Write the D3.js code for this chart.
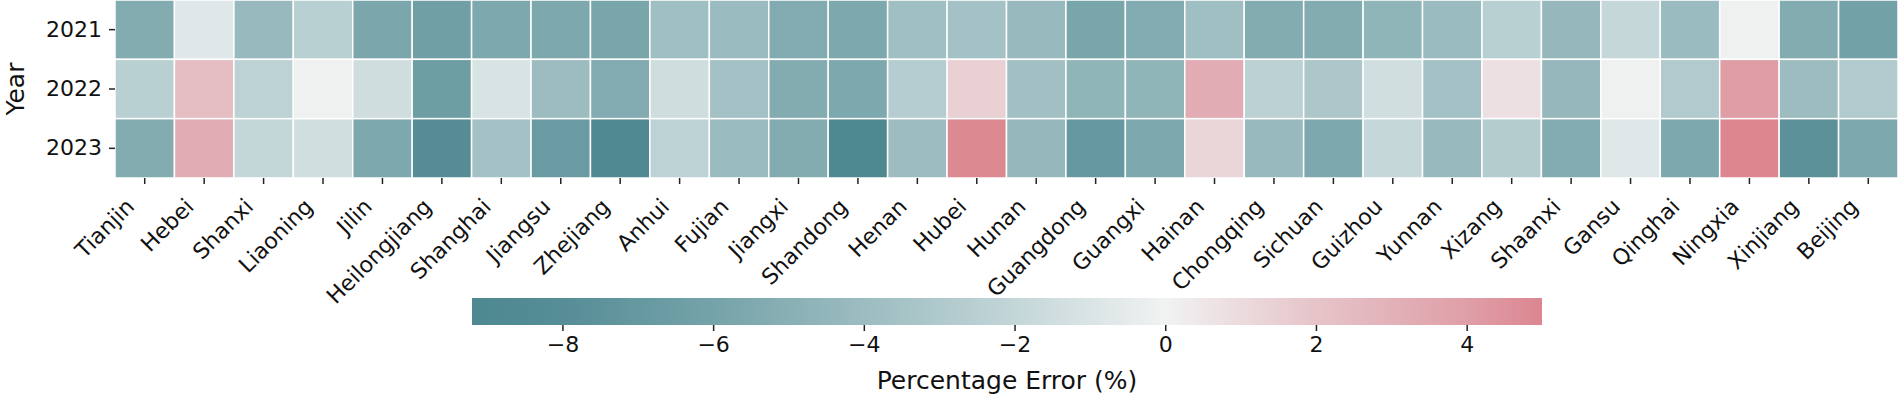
<!DOCTYPE html>
<html>
<head>
<meta charset="utf-8">
<script src="https://cdn.jsdelivr.net/npm/d3@7"></script>
<style>
  body { margin: 0; background: #fff; }
  text { font-family: "DejaVu Sans", sans-serif; fill: #111; }
</style>
</head>
<body>
<div class="container"></div>
<script>
const WIDTH = 1900;
const HEIGHT = 398;

const MAP_LEFT = 115;
const MAP_RIGHT = 1898;
const MAP_TOP = 0;
const MAP_BOTTOM = 178;

const BAR_LEFT = 472;
const BAR_RIGHT = 1542;
const BAR_TOP = 298;
const BAR_BOTTOM = 325;

const TICK_FONT = 22;
const LABEL_FONT = 25;

var provinces = ['Tianjin', 'Hebei', 'Shanxi', 'Liaoning', 'Jilin', 'Heilongjiang',
  'Shanghai', 'Jiangsu', 'Zhejiang', 'Anhui', 'Fujian', 'Jiangxi', 'Shandong', 'Henan',
  'Hubei', 'Hunan', 'Guangdong', 'Guangxi', 'Hainan', 'Chongqing', 'Sichuan', 'Guizhou',
  'Yunnan', 'Xizang', 'Shaanxi', 'Gansu', 'Qinghai', 'Ningxia', 'Xinjiang', 'Beijing'];

var years = ['2021', '2022', '2023'];

// percentage error per province, one list per year
var err2021 = [-5.3, -0.8, -4.2, -2.5, -5.7, -6.3, -5.6, -5.6, -5.8, -3.8, -4.1, -5.4, -5.6, -3.8, -3.6,
  -4.2, -5.8, -5.4, -3.8, -5.3, -5.3, -4.6, -4.1, -2.5, -4.3, -1.9, -4.1, -0.1, -5.3, -6.2];
var err2022 = [-2.5, 2.3, -2.3, -0.1, -1.5, -6.5, -1.1, -4.0, -5.4, -1.5, -3.6, -5.3, -5.6, -2.7, 1.5,
  -3.7, -4.6, -4.6, 3.3, -2.4, -3.2, -1.4, -3.6, 0.8, -4.3, -0.1, -2.9, 4.1, -4.0, -2.9];
var err2023 = [-5.3, 3.3, -2.0, -1.4, -5.6, -8.2, -3.6, -6.7, -8.9, -2.3, -4.1, -5.3, -9.2, -4.0, 4.9,
  -4.3, -7.0, -5.6, 1.2, -4.2, -5.6, -1.9, -4.2, -2.8, -5.4, -0.8, -5.6, 5.0, -7.6, -5.6];

var colorbarTicks = [-8, -6, -4, -2, 0, 2, 4];
var valueRange = [-9.2, 5.0];

// diverging palette, teal -> light grey -> pink
var paletteStops = [-9.2, -8, -6, -4, -2, 0, 2, 4, 5];
var paletteColors = ['#4e8891', '#568d96', '#75a3a9', '#9cbcc0', '#c3d6d8', '#f1f2f2',
  '#e6c4c9', '#df9fa8', '#dc8690'];

var color = d3.scaleLinear()
  .domain(paletteStops)
  .range(paletteColors)
  .interpolate(d3.interpolateRgb);

var rows = [err2021, err2022, err2023];
var cells = [];
years.forEach(function (year, i) {
  provinces.forEach(function (prov, j) {
    cells.push({ year: year, province: prov, value: rows[i][j] });
  });
});

var svg = d3.select('.container').append('svg')
  .attr('width', WIDTH)
  .attr('height', HEIGHT);

var x = d3.scaleBand().domain(provinces).range([MAP_LEFT, MAP_RIGHT]);
var y = d3.scaleBand().domain(years).range([MAP_TOP, MAP_BOTTOM]);

svg.append('g').selectAll('rect')
  .data(cells)
  .enter().append('rect')
  .attr('x', function (d) { return x(d.province); })
  .attr('y', function (d) { return y(d.year); })
  .attr('width', x.bandwidth())
  .attr('height', y.bandwidth())
  .attr('fill', function (d) { return color(d.value); })
  .attr('stroke', '#fff')
  .attr('stroke-width', 1.5);

function styleAxis(g) {
  g.select('.domain').remove();
  g.selectAll('.tick line').attr('stroke', '#222').attr('stroke-width', 1.5);
  g.selectAll('.tick text')
    .style('font-family', '"DejaVu Sans", sans-serif')
    .attr('fill', '#111')
    .attr('font-size', TICK_FONT);
}

var xAxis = svg.append('g')
  .attr('transform', 'translate(0,' + MAP_BOTTOM + ')')
  .call(d3.axisBottom(x).tickSize(6).tickSizeOuter(0))
  .call(styleAxis);

// rotated province names, right end tucked under the tick
xAxis.selectAll('.tick text')
  .attr('x', 0)
  .attr('y', 0)
  .attr('dy', 0)
  .attr('text-anchor', 'end')
  .attr('transform', 'translate(-9,30) rotate(-45)');

svg.append('g')
  .attr('transform', 'translate(' + MAP_LEFT + ',0)')
  .call(d3.axisLeft(y).tickSize(6).tickPadding(7).tickSizeOuter(0))
  .call(styleAxis);

svg.append('text')
  .attr('transform', 'translate(24,' + (MAP_TOP + MAP_BOTTOM) / 2 + ') rotate(-90)')
  .attr('text-anchor', 'middle')
  .attr('font-size', LABEL_FONT)
  .text('Year');

// colorbar
var barScale = d3.scaleLinear().domain(valueRange).range([BAR_LEFT, BAR_RIGHT]);

var grad = svg.append('defs').append('linearGradient')
  .attr('id', 'cbar')
  .attr('x1', '0%').attr('x2', '100%')
  .attr('y1', '0%').attr('y2', '0%');

grad.selectAll('stop')
  .data(paletteStops)
  .enter().append('stop')
  .attr('offset', function (d) {
    return ((d - valueRange[0]) / (valueRange[1] - valueRange[0]) * 100) + '%';
  })
  .attr('stop-color', function (d) { return color(d); });

svg.append('rect')
  .attr('x', barScale(valueRange[0]))
  .attr('y', BAR_TOP)
  .attr('width', barScale(valueRange[1]) - barScale(valueRange[0]))
  .attr('height', BAR_BOTTOM - BAR_TOP)
  .attr('fill', 'url(#cbar)');

svg.append('g')
  .attr('transform', 'translate(0,' + BAR_BOTTOM + ')')
  .call(d3.axisBottom(barScale)
    .tickValues(colorbarTicks)
    .tickSize(6)
    .tickPadding(5)
    .tickSizeOuter(0)
    .tickFormat(function (d) { return d < 0 ? '\u2212' + Math.abs(d) : d; }))
  .call(styleAxis);

svg.append('text')
  .attr('x', (BAR_LEFT + BAR_RIGHT) / 2)
  .attr('y', 389)
  .attr('text-anchor', 'middle')
  .attr('font-size', LABEL_FONT)
  .text('Percentage Error (%)');
</script>
</body>
</html>
